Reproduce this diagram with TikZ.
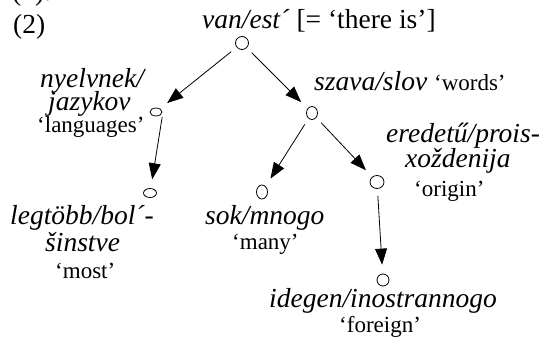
\documentclass[tikz,border=0pt]{standalone}
\usepackage{fontspec}
\setmainfont{Liberation Serif}
\usetikzlibrary{arrows.meta,shapes.geometric}
\begin{document}
\begin{tikzpicture}[x=1pt,y=-1pt,
  big/.style={font=\fontsize{27.5}{28}\selectfont, inner sep=0pt, anchor=base west},
  gl/.style={font=\fontsize{23}{24}\selectfont, inner sep=0pt, anchor=base west},
  oval/.style={draw, ellipse, inner sep=0pt, line width=0.8pt},
  arr/.style={-{Triangle[length=16pt,width=12pt]}, line width=0.8pt, shorten <=7pt, shorten >=9pt}]
\useasboundingbox (0,0) rectangle (547,339);
\node[big] (prev) at (-4,1) {r (2).};
\node[big] (ex) at (13,34) {(2)};
% nodes
\node[oval, minimum width=13pt, minimum height=13pt] (r) at (242,43) {};
\node[oval, minimum width=12pt, minimum height=8pt] (n1) at (156,112) {};
\node[oval, minimum width=13pt, minimum height=9pt] (n2) at (150,193) {};
\node[oval, minimum width=11pt, minimum height=13pt] (s) at (312,113) {};
\node[oval, minimum width=11pt, minimum height=14pt] (sk) at (262,192) {};
\node[oval, minimum width=14pt, minimum height=13pt] (e) at (377,182) {};
\node[oval, minimum width=12pt, minimum height=12pt] (id) at (383,280) {};
% labels
\node[big] (rl) at (202,29) {\textit{van/est´} [= ‘there is’]};
\node[big] (n1a) at (40,88) {\textit{nyelvnek/}};
\node[big] (n1b) at (48,111) {\textit{jazykov}};
\node[gl] (n1c) at (37,133) {‘languages’};
\node[big] (n2a) at (10,225) {\textit{legtöbb/bol´-}};
\node[big] (n2b) at (45,252) {\textit{šinstve}};
\node[gl] (n2c) at (55,279) {‘most’};
\node[big] (sl) at (314,91) {\textit{szava/slov} {\fontsize{23}{24}\selectfont ‘words’}};
\node[big] (ska) at (205,225) {\textit{sok/mnogo}};
\node[gl] (skb) at (232,250) {‘many’};
\node[big] (ea) at (386,143) {\textit{eredetű/prois-}};
\node[big] (eb) at (405,168) {\textit{xoždenija}};
\node[gl] (ec) at (414,197) {‘origin’};
\node[big] (ida) at (269,308) {\textit{idegen/inostrannogo}};
\node[gl] (idb) at (339,333) {‘foreign’};
% arrows
\draw[arr] (r) -- (n1);
\draw[arr, shorten <=5pt] ([xshift=7pt]n1.center) -- (n2);
\draw[arr] (r) -- (s);
\draw[arr] (s) -- (sk);
\draw[arr] (s) -- (e);
\draw[arr] (e) -- (id);
\end{tikzpicture}
\end{document}
